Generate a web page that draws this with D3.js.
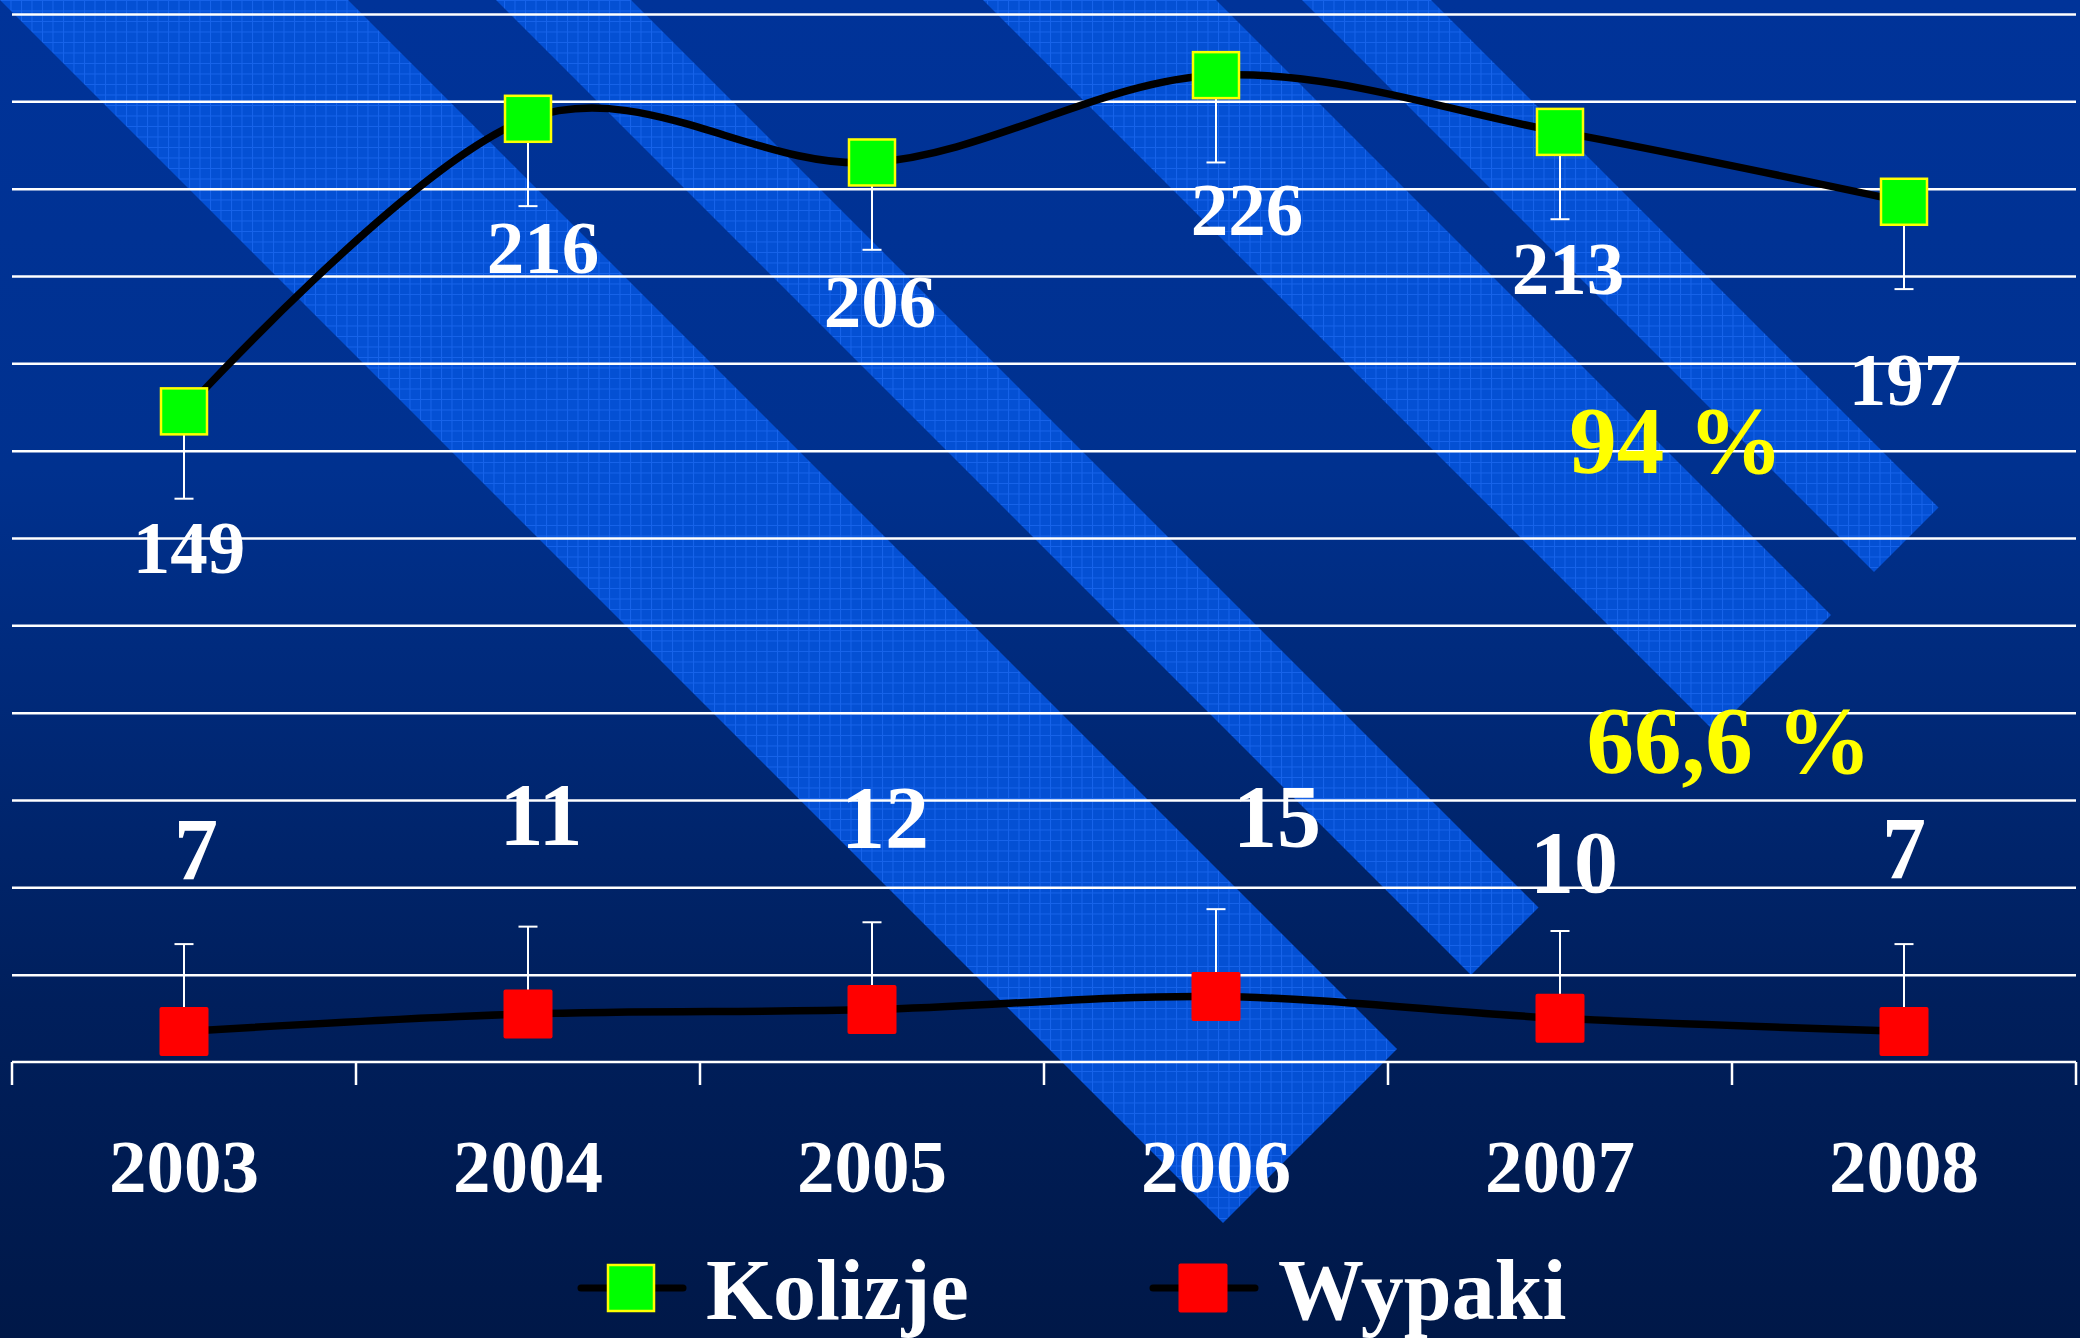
<!DOCTYPE html>
<html lang="pl">
<head>
<meta charset="utf-8">
<title>Kolizje i wypadki 2003-2008</title>
<script src="https://cdn.jsdelivr.net/npm/d3@7"></script>
<style>
    html, body { margin: 0; padding: 0; background: #001848; }
    svg { display: block; }
    text { font-family: "Liberation Serif", "Times New Roman", serif; font-weight: bold; }
</style>
</head>
<body>
<script>

    // --- data ---
    var years = ["2003", "2004", "2005", "2006", "2007", "2008"];
    var kolizje = [149, 216, 206, 226, 213, 197];
    var wypaki = [7, 11, 12, 15, 10, 7];
    var errorSize = 20;                       // same fixed error bar on every point
    var yTicks = d3.range(20, 241, 20);
    var seriesNames = ["Kolizje", "Wypaki"];
    var notes = ["94 %", "66,6 %"];

    // label nudges (px from the point), placed by hand in the original
    var kolizjeNudge = [[5, 162], [15, 154], [8, 165], [31, 160], [8, 162], [1, 203]];
    var wypakiNudge = [[12, -152], [13, -170], [13, -163], [61, -151], [14, -126], [0, -153]];
    var notePos = [[1676, 473], [1729, 773]];

    var W = 2080, H = 1338;
    var left = 12, right = 2076, axisY = 1062, topY = 14;

    var svg = d3.select("body").append("svg")
        .attr("width", W)
        .attr("height", H);

    var defs = svg.append("defs");
    var grad = defs.append("linearGradient")
        .attr("id", "bg")
        .attr("x1", 0).attr("y1", 0).attr("x2", 0).attr("y2", 1);
    grad.append("stop").attr("offset", "0").attr("stop-color", "#003399");
    grad.append("stop").attr("offset", "0.35").attr("stop-color", "#00318f");
    grad.append("stop").attr("offset", "0.75").attr("stop-color", "#001f5c");
    grad.append("stop").attr("offset", "1").attr("stop-color", "#001848");

    var pat = defs.append("pattern")
        .attr("id", "tex")
        .attr("width", 10.5).attr("height", 10.5)
        .attr("patternUnits", "userSpaceOnUse");
    pat.append("rect").attr("width", 10.5).attr("height", 10.5).attr("fill", "#0450d4");
    pat.append("path")
        .attr("d", "M0,0.5H10.5M0.5,0V10.5")
        .attr("stroke", "#2a76ff")
        .attr("stroke-width", 1)
        .attr("opacity", 0.5);

    svg.append("rect").attr("width", W).attr("height", H).attr("fill", "url(#bg)");

    // template stripes: ranges of (x - y), all cut by the line x + y = 2446
    var stripes = [[0, 348], [496, 631], [983, 1216], [1302, 1431]];
    var stripeEnd = 2446;
    svg.append("g").selectAll("polygon")
        .data(stripes)
        .enter()
        .append("polygon")
        .attr("points", function(s) {
            var a = s[0], b = s[1], e = stripeEnd;
            return [[a, 0], [b, 0], [(e + b) / 2, (e - b) / 2], [(e + a) / 2, (e - a) / 2]]
                .map(function(p) { return p.join(","); }).join(" ");
        })
        .attr("fill", "url(#tex)");

    // --- scales ---
    var x = d3.scaleBand().domain(years).range([left, right]).padding(0);
    var y = d3.scaleLinear().domain([0, 240]).range([axisY, topY]);
    var cx = function(i) { return x(years[i]) + x.bandwidth() / 2; };

    // gridlines
    var grid = svg.append("g")
        .attr("transform", "translate(" + left + ",0)")
        .call(d3.axisLeft(y).tickValues(yTicks).tickSize(-(right - left)).tickFormat(""));
    grid.select(".domain").remove();
    grid.selectAll("line").attr("stroke", "#ffffff").attr("stroke-width", 2.5);

    // x axis: baseline + boundary ticks + year labels
    var xAxis = svg.append("g")
        .attr("transform", "translate(0," + axisY + ")")
        .call(d3.axisBottom(x).tickSize(0).tickPadding(130));
    xAxis.select(".domain").attr("stroke", "#ffffff").attr("stroke-width", 2.5).attr("d", "M" + left + ",0H" + right);
    xAxis.selectAll("text")
        .attr("fill", "#ffffff")
        .attr("font-size", 75)
        .attr("dy", 0);
    var bounds = years.map(function(d) { return x(d); }).concat([right]);
    xAxis.selectAll(".bound")
        .data(bounds)
        .enter()
        .append("line")
        .attr("class", "bound")
        .attr("x1", function(d) { return d; })
        .attr("x2", function(d) { return d; })
        .attr("y1", 0)
        .attr("y2", 23)
        .attr("stroke", "#ffffff")
        .attr("stroke-width", 2.5);

    // error bars
    function errorBars(values, dir) {
        var g = svg.append("g").attr("stroke", "#ffffff").attr("stroke-width", 2);
        values.forEach(function(v, i) {
            var yEnd = y(v + dir * errorSize);
            g.append("line")
                .attr("x1", cx(i)).attr("x2", cx(i))
                .attr("y1", y(v)).attr("y2", yEnd);
            g.append("line")
                .attr("x1", cx(i) - 9.5).attr("x2", cx(i) + 9.5)
                .attr("y1", yEnd).attr("y2", yEnd);
        });
    }
    errorBars(kolizje, -1);
    errorBars(wypaki, 1);

    // lines
    var line = d3.line()
        .x(function(d, i) { return cx(i); })
        .y(function(d) { return y(d); })
        .curve(d3.curveCatmullRom.alpha(0));

    [kolizje, wypaki].forEach(function(vals) {
        svg.append("path")
            .datum(vals)
            .attr("d", line)
            .attr("fill", "none")
            .attr("stroke", "#000000")
            .attr("stroke-width", 7.5);
    });

    // markers
    svg.append("g").selectAll("rect")
        .data(kolizje)
        .enter()
        .append("rect")
        .attr("x", function(d, i) { return cx(i) - 23; })
        .attr("y", function(d) { return y(d) - 23; })
        .attr("width", 46).attr("height", 46)
        .attr("fill", "#00ff00")
        .attr("stroke", "#ffff00")
        .attr("stroke-width", 2.5);

    svg.append("g").selectAll("rect")
        .data(wypaki)
        .enter()
        .append("rect")
        .attr("x", function(d, i) { return cx(i) - 24.5; })
        .attr("y", function(d) { return y(d) - 24.5; })
        .attr("width", 49).attr("height", 49)
        .attr("rx", 2)
        .attr("fill", "#ff0000");

    // value labels
    svg.append("g").selectAll("text")
        .data(kolizje)
        .enter()
        .append("text")
        .attr("x", function(d, i) { return cx(i) + kolizjeNudge[i][0]; })
        .attr("y", function(d, i) { return y(d) + kolizjeNudge[i][1]; })
        .attr("text-anchor", "middle")
        .attr("font-size", 75)
        .attr("fill", "#ffffff")
        .text(function(d) { return d; });

    svg.append("g").selectAll("text")
        .data(wypaki)
        .enter()
        .append("text")
        .attr("x", function(d, i) { return cx(i) + wypakiNudge[i][0]; })
        .attr("y", function(d, i) { return y(d) + wypakiNudge[i][1]; })
        .attr("text-anchor", "middle")
        .attr("font-size", 88)
        .attr("fill", "#ffffff")
        .text(function(d) { return d; });

    // percentage notes
    svg.append("g").selectAll("text")
        .data(notes)
        .enter()
        .append("text")
        .attr("x", function(d, i) { return notePos[i][0]; })
        .attr("y", function(d, i) { return notePos[i][1]; })
        .attr("text-anchor", "middle")
        .attr("font-size", 95)
        .attr("fill", "#ffff00")
        .text(function(d) { return d; });

    // legend
    var legendX = [631, 1203];
    var legendY = 1288;
    var legend = svg.append("g").selectAll("g")
        .data(seriesNames)
        .enter()
        .append("g")
        .attr("transform", function(d, i) { return "translate(" + legendX[i] + "," + legendY + ")"; });
    legend.append("line")
        .attr("x1", -50).attr("x2", 52)
        .attr("stroke", "#000000")
        .attr("stroke-width", 7)
        .attr("stroke-linecap", "round");
    legend.append("rect")
        .attr("x", function(d, i) { return i === 0 ? -23 : -24.5; })
        .attr("y", function(d, i) { return i === 0 ? -23 : -24.5; })
        .attr("width", function(d, i) { return i === 0 ? 46 : 49; })
        .attr("height", function(d, i) { return i === 0 ? 46 : 49; })
        .attr("rx", function(d, i) { return i === 0 ? 0 : 2; })
        .attr("fill", function(d, i) { return i === 0 ? "#00ff00" : "#ff0000"; })
        .attr("stroke", function(d, i) { return i === 0 ? "#ffff00" : "none"; })
        .attr("stroke-width", 2.5);
    legend.append("text")
        .attr("x", 75)
        .attr("y", 31)
        .attr("font-size", 86)
        .attr("fill", "#ffffff")
        .text(function(d) { return d; });

</script>
</body>
</html>
